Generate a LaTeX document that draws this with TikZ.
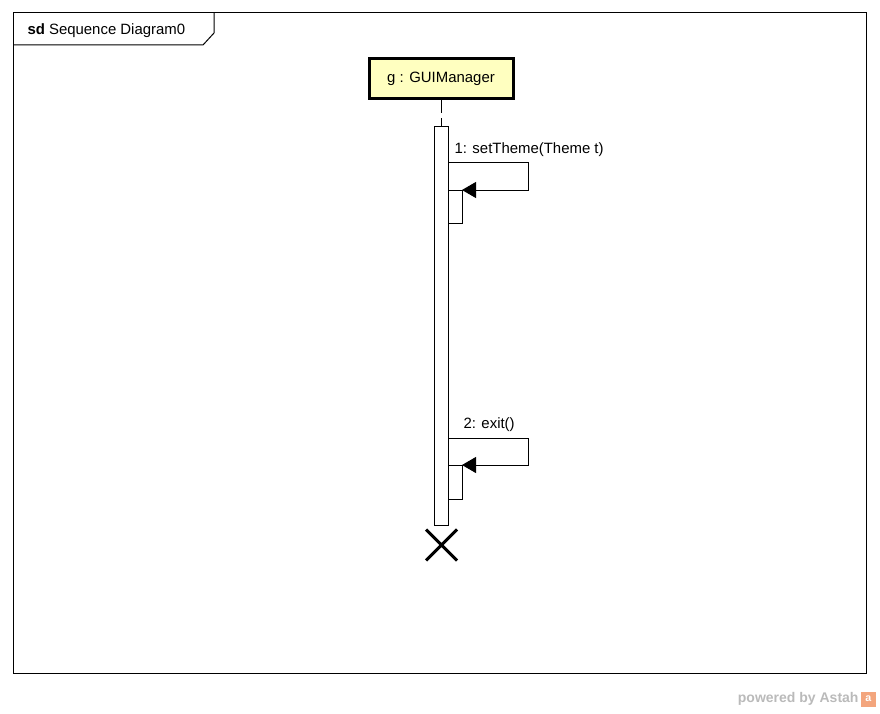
\documentclass[tikz,border=0pt]{standalone}
\usepackage{fontspec}
\setmainfont{Liberation Sans}
\usepackage{xcolor}
\definecolor{colorHead}{RGB}{255,255,192}
\definecolor{colorLogo}{RGB}{243,165,125}
\colorlet{colorPowered}{black!27}
\usetikzlibrary{arrows.meta, positioning, shapes.misc}

\begin{document}
\begin{tikzpicture}[x=0.75pt, y=-0.75pt, line width=0.75pt, >={Triangle[length=10.5pt, width=12pt]},
  every node/.style={font=\fontsize{11.2}{13}\selectfont},
  head/.style={draw, line width=2.25pt, fill=colorHead, minimum width=108pt, minimum height=30pt, inner sep=0pt},
  activation/.style={draw, fill=white, minimum width=10.5pt, inner sep=0pt, outer sep=0pt},
  message/.style={->},
  msglabel/.style={anchor=west, inner sep=0pt}]
\useasboundingbox (0,0) rectangle (880,713);
% frame
\draw (13,13) rectangle (866,673);
\draw (13,45) -- (203,45) -- (214,33) -- (214,13);
\node[anchor=west, inner sep=0pt] (title) at (27,31) {\textbf{sd} Sequence Diagram0};
% lifeline
\node[head] (gui) at (441,79) {g : GUIManager};
\node[activation, minimum height=298.5pt] (act0) at (441,326) {};
\draw[dash pattern=on 9.75pt off 3.75pt] (gui.south) -- (act0.north);
% 1: setTheme
\coordinate (m1) at (528,162);
\node[activation, minimum height=24.75pt, anchor=north west] (act1) at (448,190) {};
\draw[message] (act0.east |- m1) -- (m1) |- (act1.north east);
\node[msglabel] (l1) at (454,150) {1: setTheme(Theme t)};
% 2: exit
\coordinate (m2) at (528,438);
\node[activation, minimum height=25.5pt, anchor=north west] (act2) at (448,465) {};
\draw[message] (act0.east |- m2) -- (m2) |- (act2.north east);
\node[msglabel] (l2) at (463,425) {2: exit()};
% destroy
\node[draw, cross out, line width=2.25pt, minimum size=21pt, inner sep=0pt] (end) at (441.5,545) {};
% watermark
\node[anchor=east, inner sep=0pt, text=colorPowered, font=\fontsize{10.5}{12}\selectfont\bfseries] (powered) at (859,699) {powered by Astah};
\node[fill=colorLogo, minimum size=11.25pt, inner sep=0pt, right=1pt of powered, text=white, font=\fontsize{8}{8}\selectfont\bfseries] (logo) {a};
\end{tikzpicture}
\end{document}
